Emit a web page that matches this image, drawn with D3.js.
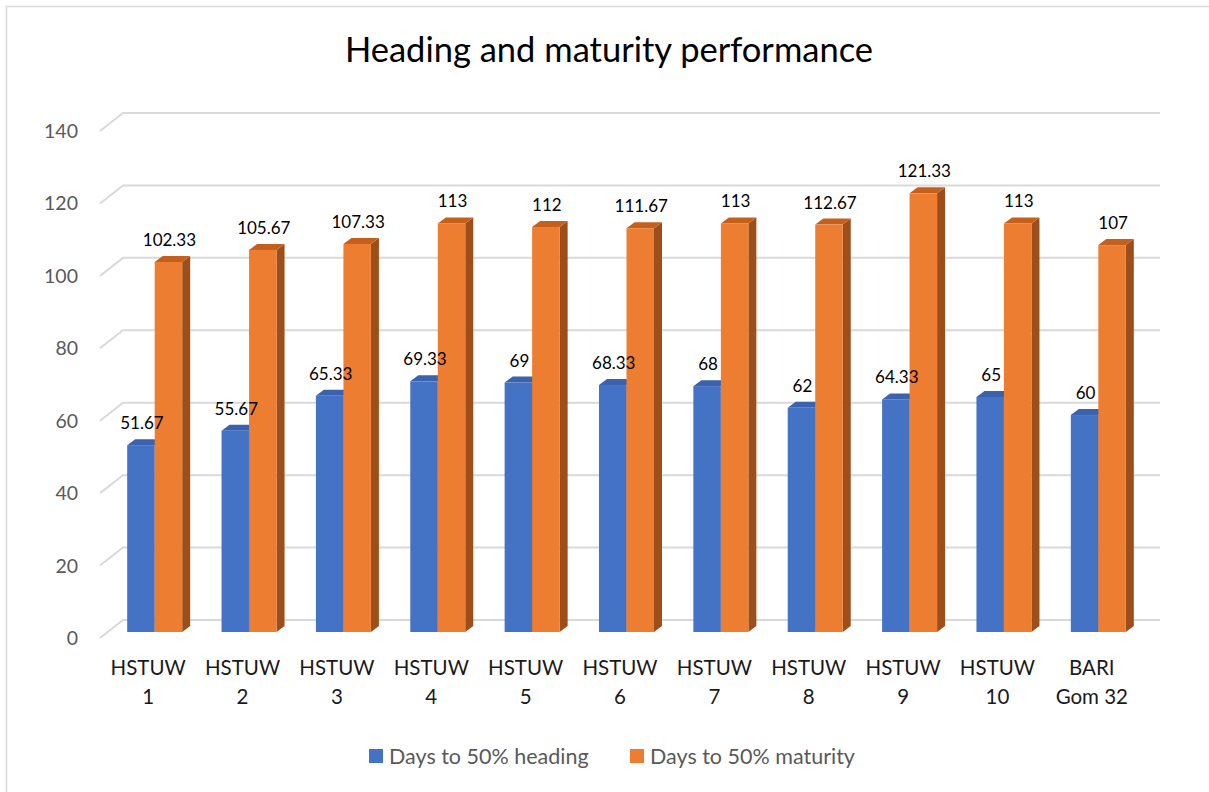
<!DOCTYPE html>
<html>
<head>
<meta charset="utf-8">
<script src="https://cdn.jsdelivr.net/npm/d3@7"></script>
<style>
  html, body { margin: 0; padding: 0; background: #fff; }
  svg { display: block; }
</style>
</head>
<body>
<svg id="chart" width="1209" height="792"></svg>
<script>
// Varieties on the x axis (two text lines each)
const categories = ["HSTUW 1", "HSTUW 2", "HSTUW 3", "HSTUW 4", "HSTUW 5", "HSTUW 6",
                    "HSTUW 7", "HSTUW 8", "HSTUW 9", "HSTUW 10", "BARI Gom 32"];
const categoryLines = [["HSTUW", "1"], ["HSTUW", "2"], ["HSTUW", "3"], ["HSTUW", "4"],
                       ["HSTUW", "5"], ["HSTUW", "6"], ["HSTUW", "7"], ["HSTUW", "8"],
                       ["HSTUW", "9"], ["HSTUW", "10"], ["BARI", "Gom 32"]];
const seriesNames = ["Days to 50% heading", "Days to 50% maturity"];
const heading  = [51.67, 55.67, 65.33, 69.33, 69, 68.33, 68, 62, 64.33, 65, 60];
const maturity = [102.33, 105.67, 107.33, 113, 112, 111.67, 113, 112.67, 121.33, 113, 107];
const headingLabels  = ["51.67", "55.67", "65.33", "69.33", "69", "68.33", "68", "62", "64.33", "65", "60"];
const maturityLabels = ["102.33", "105.67", "107.33", "113", "112", "111.67", "113", "112.67", "121.33", "113", "107"];
const yTicks = [0, 20, 40, 60, 80, 100, 120, 140];

const seriesValues = [heading, maturity];
const seriesLabels = [headingLabels, maturityLabels];

const FONT = "Lato, 'Open Sans', 'Liberation Sans', sans-serif";
const palette = [
  { front: "#4472c4", top: "#3a62ad", side: "#2f5597" },
  { front: "#ed7d31", top: "#c4601c", side: "#9e4e1a" }
];

const svg = d3.select("#chart");

// Outer chart border
svg.append("rect")
  .attr("x", 6.5).attr("y", 6.5)
  .attr("width", 1260).attr("height", 840)
  .attr("fill", "#fff").attr("stroke", "#d9d9d9").attr("stroke-width", 1.5);

// Title
svg.append("text")
  .attr("x", 609).attr("y", 62)
  .attr("text-anchor", "middle")
  .attr("font-family", FONT).attr("font-size", 34.5)
  .attr("fill", "#000")
  .text("Heading and maturity performance");

// 3D projection: front plane (axis labels), back wall (gridlines), bar slice in between
const depthX = 23, depthY = -18;          // front plane -> back wall
const barDX = 8, barDY = -6;              // bar front face -> bar back face
const yFront = d3.scaleLinear().domain([0, 140]).range([638, 131]);
const yBar   = d3.scaleLinear().domain([0, 140]).range([632, 125.8]);

const x = d3.scaleBand().domain(categories).range([101, 1139]);
const xSeries = d3.scaleBand().domain(seriesNames).range([-27.5, 27.5]);
const barShift = 6.5;

const wallLeft = x.range()[0], wallRight = x.range()[1];

// Gridlines: diagonal on the side wall, then across the back wall
const grid = svg.append("g").attr("fill", "none").attr("stroke", "#d9d9d9").attr("stroke-width", 2);
yTicks.forEach(t => {
  const yf = yFront(t);
  grid.append("path")
    .attr("d", `M${wallLeft - 1},${yf} L${wallLeft - 1 + depthX},${yf + depthY} L${wallRight + depthX - 2},${yf + depthY}`);
});

// Y tick labels
svg.append("g").selectAll("text").data(yTicks).join("text")
  .attr("x", 78).attr("y", d => yFront(d) + 7)
  .attr("text-anchor", "end")
  .attr("font-family", FONT).attr("font-size", 19.5)
  .attr("fill", "#595959")
  .text(d => d);

// Bars drawn as extruded boxes
const bars = svg.append("g");
categories.forEach((c, i) => {
  seriesNames.forEach((s, k) => {
    const v = seriesValues[k][i];
    const col = palette[k];
    const cx = x(c) + x.bandwidth() / 2 + barShift;
    const x0 = cx + xSeries(s), x1 = x0 + xSeries.bandwidth();
    const yt = yBar(v), yb = yBar(0);
    const g = bars.append("g");
    // right side
    g.append("path").attr("fill", col.side)
      .attr("d", `M${x1},${yb} L${x1 + barDX},${yb + barDY} L${x1 + barDX},${yt + barDY} L${x1},${yt} Z`);
    // top
    g.append("path").attr("fill", col.top)
      .attr("d", `M${x0},${yt} L${x0 + barDX},${yt + barDY} L${x1 + barDX},${yt + barDY} L${x1},${yt} Z`);
    // front
    g.append("rect").attr("fill", col.front)
      .attr("x", x0).attr("y", yt).attr("width", x1 - x0).attr("height", yb - yt);
  });
});

// Value labels above each bar
const labels = svg.append("g")
  .attr("font-family", FONT).attr("font-size", 17).attr("fill", "#000")
  .attr("text-anchor", "middle");
categories.forEach((c, i) => {
  seriesNames.forEach((s, k) => {
    const cx = x(c) + x.bandwidth() / 2 + barShift + xSeries(s) + xSeries.bandwidth() / 2;
    labels.append("text")
      .attr("x", cx + 1)
      .attr("y", yBar(seriesValues[k][i]) - 16)
      .text(seriesLabels[k][i]);
  });
});

// Category labels
const cat = svg.append("g")
  .attr("font-family", FONT).attr("font-size", 20.5).attr("fill", "#1a1a1a")
  .attr("text-anchor", "middle");
categories.forEach((c, i) => {
  const t = cat.append("text").attr("x", x(c) + x.bandwidth() / 2).attr("y", 675);
  categoryLines[i].forEach((line, j) => {
    t.append("tspan").attr("x", x(c) + x.bandwidth() / 2).attr("dy", j === 0 ? 0 : 29).text(line);
  });
});

// Legend
const legend = svg.append("g").attr("font-family", FONT).attr("font-size", 21.5).attr("fill", "#595959");
const legendX = [369, 630];
seriesNames.forEach((s, k) => {
  legend.append("rect")
    .attr("x", legendX[k]).attr("y", 749).attr("width", 14).attr("height", 14)
    .attr("fill", palette[k].front);
  legend.append("text")
    .attr("x", legendX[k] + 20).attr("y", 764)
    .text(s);
});
</script>
</body>
</html>
